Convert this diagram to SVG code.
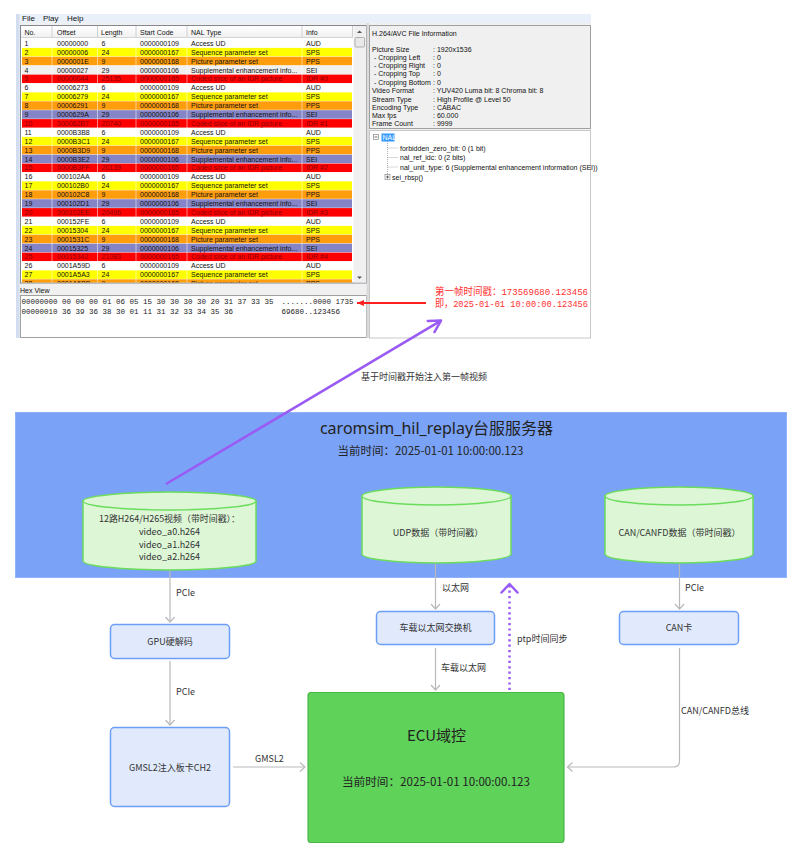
<svg xmlns="http://www.w3.org/2000/svg" width="800" height="858" viewBox="0 0 800 858">
<style>
.ui{font-family:"Liberation Sans",Arial,sans-serif;font-size:7px;fill:#111}
.menu{font-family:"Liberation Sans",Arial,sans-serif;font-size:8px;fill:#111}
.mono{font-family:"Liberation Mono","DejaVu Sans Mono",monospace;font-size:7.5px;fill:#222}
.cn{font-family:"Noto Sans CJK SC","Noto Sans",sans-serif;font-size:9px;fill:#333}
.yl{fill:#ffff00}.or{fill:#ff9d0d}.rd{fill:#ff0000}.pu{fill:#8484c6}.wh{fill:#ffffff}.gy{fill:#f0f0f0}
.rdt{fill:#8a0000}
.cyl{fill:#dcf6d6;stroke:#6cdc5c;stroke-width:1.5}
.box{fill:#e1eafd;stroke:#6d9ef6;stroke-width:1.5}
.conn{fill:none;stroke:#b9b9b9;stroke-width:1.2}
.red{font-family:"Liberation Mono","Noto Sans CJK SC",monospace;font-size:9.5px;fill:#ff3030}
.redcn{font-family:"Noto Sans CJK SC",sans-serif;font-size:10px}
</style>
<defs>
<linearGradient id="hdr" x1="0" y1="0" x2="0" y2="1"><stop offset="0" stop-color="#ffffff"/><stop offset="1" stop-color="#f0f0f0"/></linearGradient>
<marker id="ga" markerUnits="userSpaceOnUse" markerWidth="12" markerHeight="12" refX="5.5" refY="5" orient="auto" overflow="visible"><path d="M0.5,0.5 L5.5,5 L0.5,9.5" fill="none" stroke="#b9b9b9" stroke-width="1.2"/></marker>
<marker id="pa" markerUnits="userSpaceOnUse" markerWidth="16" markerHeight="16" refX="11.5" refY="6.5" orient="auto" overflow="visible"><path d="M0,0 L11.5,6.5 L0,13" fill="none" stroke="#9a5af4" stroke-width="2.5" stroke-linecap="round" stroke-linejoin="round"/></marker>
<marker id="pb" markerUnits="userSpaceOnUse" markerWidth="16" markerHeight="18" refX="8.5" refY="8" orient="auto" overflow="visible"><path d="M0,0 L8.5,8 L0,16" fill="none" stroke="#9a5af4" stroke-width="2.5" stroke-linecap="round" stroke-linejoin="round"/></marker>
<marker id="ra" markerUnits="userSpaceOnUse" markerWidth="10" markerHeight="10" refX="7" refY="3" orient="auto" overflow="visible"><path d="M0,0 L7,3 L0,6 Z" fill="#ff2020"/></marker>
<clipPath id="tbl"><rect x="21" y="38" width="332" height="244.5"/></clipPath>
</defs>

<g id="screenshot">
  <rect x="16" y="14" width="575" height="324" fill="#f0f0f0"/>
  <rect x="16" y="14" width="575" height="9" fill="#eaf0fa"/>
  <rect x="16" y="14" width="3.5" height="324" fill="#d2ddef"/>
  <text class="menu" x="22" y="21">File</text>
  <text class="menu" x="43" y="21">Play</text>
  <text class="menu" x="67" y="21">Help</text>

  <rect x="20.5" y="25.5" width="346" height="257.5" fill="#ffffff" stroke="#828790"/>
  <rect x="21" y="26" width="332" height="11.5" fill="url(#hdr)"/>
  <line x1="21" y1="37.5" x2="353" y2="37.5" stroke="#d5d5d5"/>
  <g stroke="#d0d0d0">
    <line x1="52" y1="26" x2="52" y2="37"/><line x1="97.5" y1="26" x2="97.5" y2="37"/>
    <line x1="136" y1="26" x2="136" y2="37"/><line x1="187" y1="26" x2="187" y2="37"/>
    <line x1="302" y1="26" x2="302" y2="37"/><line x1="352.5" y1="26" x2="352.5" y2="37"/>
  </g>
  <text class="ui" y="34.5"><tspan x="24.5">No.</tspan><tspan x="57">Offset</tspan><tspan x="101">Length</tspan><tspan x="140">Start Code</tspan><tspan x="191">NAL Type</tspan><tspan x="306">Info</tspan></text>

  <g clip-path="url(#tbl)" class="ui">
    <g transform="translate(0,39)"><rect class="wh" x="22" width="330" height="8.5"/><text y="6.9"><tspan x="24.5">1</tspan><tspan x="57">00000000</tspan><tspan x="101.5">6</tspan><tspan x="140">0000000109</tspan><tspan x="191">Access UD</tspan><tspan x="306">AUD</tspan></text></g>
    <g transform="translate(0,47.9)"><rect class="yl" x="22" width="330" height="8.5"/><text y="6.9"><tspan x="24.5">2</tspan><tspan x="57">00000006</tspan><tspan x="101.5">24</tspan><tspan x="140">0000000167</tspan><tspan x="191">Sequence parameter set</tspan><tspan x="306">SPS</tspan></text></g>
    <g transform="translate(0,56.8)"><rect class="or" x="22" width="330" height="8.5"/><text y="6.9"><tspan x="24.5">3</tspan><tspan x="57">0000001E</tspan><tspan x="101.5">9</tspan><tspan x="140">0000000168</tspan><tspan x="191">Picture parameter set</tspan><tspan x="306">PPS</tspan></text></g>
    <g transform="translate(0,65.7)"><rect class="gy" x="22" width="330" height="8.5"/><text y="6.9"><tspan x="24.5">4</tspan><tspan x="57">00000027</tspan><tspan x="101.5">29</tspan><tspan x="140">0000000106</tspan><tspan x="191">Supplemental enhancement info...</tspan><tspan x="306">SEI</tspan></text></g>
    <g transform="translate(0,74.6)"><rect class="rd" x="22" width="330" height="8.5"/><text class="rdt" y="6.9"><tspan x="24.5">5</tspan><tspan x="57">00000044</tspan><tspan x="101.5">25135</tspan><tspan x="140">0000000165</tspan><tspan x="191">Coded slice of an IDR picture</tspan><tspan x="306">IDR #0</tspan></text></g>
    <g transform="translate(0,83.5)"><rect class="wh" x="22" width="330" height="8.5"/><text y="6.9"><tspan x="24.5">6</tspan><tspan x="57">00006273</tspan><tspan x="101.5">6</tspan><tspan x="140">0000000109</tspan><tspan x="191">Access UD</tspan><tspan x="306">AUD</tspan></text></g>
    <g transform="translate(0,92.4)"><rect class="yl" x="22" width="330" height="8.5"/><text y="6.9"><tspan x="24.5">7</tspan><tspan x="57">00006279</tspan><tspan x="101.5">24</tspan><tspan x="140">0000000167</tspan><tspan x="191">Sequence parameter set</tspan><tspan x="306">SPS</tspan></text></g>
    <g transform="translate(0,101.3)"><rect class="or" x="22" width="330" height="8.5"/><text y="6.9"><tspan x="24.5">8</tspan><tspan x="57">00006291</tspan><tspan x="101.5">9</tspan><tspan x="140">0000000168</tspan><tspan x="191">Picture parameter set</tspan><tspan x="306">PPS</tspan></text></g>
    <g transform="translate(0,110.2)"><rect class="pu" x="22" width="330" height="8.5"/><text y="6.9"><tspan x="24.5">9</tspan><tspan x="57">0000629A</tspan><tspan x="101.5">29</tspan><tspan x="140">0000000106</tspan><tspan x="191">Supplemental enhancement info...</tspan><tspan x="306">SEI</tspan></text></g>
    <g transform="translate(0,119.1)"><rect class="rd" x="22" width="330" height="8.5"/><text class="rdt" y="6.9"><tspan x="24.5">10</tspan><tspan x="57">000062B7</tspan><tspan x="101.5">20740</tspan><tspan x="140">0000000165</tspan><tspan x="191">Coded slice of an IDR picture</tspan><tspan x="306">IDR #1</tspan></text></g>
    <g transform="translate(0,128)"><rect class="wh" x="22" width="330" height="8.5"/><text y="6.9"><tspan x="24.5">11</tspan><tspan x="57">0000B3B8</tspan><tspan x="101.5">6</tspan><tspan x="140">0000000109</tspan><tspan x="191">Access UD</tspan><tspan x="306">AUD</tspan></text></g>
    <g transform="translate(0,136.9)"><rect class="yl" x="22" width="330" height="8.5"/><text y="6.9"><tspan x="24.5">12</tspan><tspan x="57">0000B3C1</tspan><tspan x="101.5">24</tspan><tspan x="140">0000000167</tspan><tspan x="191">Sequence parameter set</tspan><tspan x="306">SPS</tspan></text></g>
    <g transform="translate(0,145.8)"><rect class="or" x="22" width="330" height="8.5"/><text y="6.9"><tspan x="24.5">13</tspan><tspan x="57">0000B3D9</tspan><tspan x="101.5">9</tspan><tspan x="140">0000000168</tspan><tspan x="191">Picture parameter set</tspan><tspan x="306">PPS</tspan></text></g>
    <g transform="translate(0,154.7)"><rect class="pu" x="22" width="330" height="8.5"/><text y="6.9"><tspan x="24.5">14</tspan><tspan x="57">0000B3E2</tspan><tspan x="101.5">29</tspan><tspan x="140">0000000106</tspan><tspan x="191">Supplemental enhancement info...</tspan><tspan x="306">SEI</tspan></text></g>
    <g transform="translate(0,163.6)"><rect class="rd" x="22" width="330" height="8.5"/><text class="rdt" y="6.9"><tspan x="24.5">15</tspan><tspan x="57">0000B3FF</tspan><tspan x="101.5">20139</tspan><tspan x="140">0000000165</tspan><tspan x="191">Coded slice of an IDR picture</tspan><tspan x="306">IDR #2</tspan></text></g>
    <g transform="translate(0,172.5)"><rect class="wh" x="22" width="330" height="8.5"/><text y="6.9"><tspan x="24.5">16</tspan><tspan x="57">000102AA</tspan><tspan x="101.5">6</tspan><tspan x="140">0000000109</tspan><tspan x="191">Access UD</tspan><tspan x="306">AUD</tspan></text></g>
    <g transform="translate(0,181.4)"><rect class="yl" x="22" width="330" height="8.5"/><text y="6.9"><tspan x="24.5">17</tspan><tspan x="57">000102B0</tspan><tspan x="101.5">24</tspan><tspan x="140">0000000167</tspan><tspan x="191">Sequence parameter set</tspan><tspan x="306">SPS</tspan></text></g>
    <g transform="translate(0,190.3)"><rect class="or" x="22" width="330" height="8.5"/><text y="6.9"><tspan x="24.5">18</tspan><tspan x="57">000102C8</tspan><tspan x="101.5">9</tspan><tspan x="140">0000000168</tspan><tspan x="191">Picture parameter set</tspan><tspan x="306">PPS</tspan></text></g>
    <g transform="translate(0,199.2)"><rect class="pu" x="22" width="330" height="8.5"/><text y="6.9"><tspan x="24.5">19</tspan><tspan x="57">000102D1</tspan><tspan x="101.5">29</tspan><tspan x="140">0000000106</tspan><tspan x="191">Supplemental enhancement info...</tspan><tspan x="306">SEI</tspan></text></g>
    <g transform="translate(0,208.1)"><rect class="rd" x="22" width="330" height="8.5"/><text class="rdt" y="6.9"><tspan x="24.5">20</tspan><tspan x="57">000102EE</tspan><tspan x="101.5">20496</tspan><tspan x="140">0000000165</tspan><tspan x="191">Coded slice of an IDR picture</tspan><tspan x="306">IDR #3</tspan></text></g>
    <g transform="translate(0,217)"><rect class="wh" x="22" width="330" height="8.5"/><text y="6.9"><tspan x="24.5">21</tspan><tspan x="57">000152FE</tspan><tspan x="101.5">6</tspan><tspan x="140">0000000109</tspan><tspan x="191">Access UD</tspan><tspan x="306">AUD</tspan></text></g>
    <g transform="translate(0,225.9)"><rect class="yl" x="22" width="330" height="8.5"/><text y="6.9"><tspan x="24.5">22</tspan><tspan x="57">00015304</tspan><tspan x="101.5">24</tspan><tspan x="140">0000000167</tspan><tspan x="191">Sequence parameter set</tspan><tspan x="306">SPS</tspan></text></g>
    <g transform="translate(0,234.8)"><rect class="or" x="22" width="330" height="8.5"/><text y="6.9"><tspan x="24.5">23</tspan><tspan x="57">0001531C</tspan><tspan x="101.5">9</tspan><tspan x="140">0000000168</tspan><tspan x="191">Picture parameter set</tspan><tspan x="306">PPS</tspan></text></g>
    <g transform="translate(0,243.7)"><rect class="pu" x="22" width="330" height="8.5"/><text y="6.9"><tspan x="24.5">24</tspan><tspan x="57">00015325</tspan><tspan x="101.5">29</tspan><tspan x="140">0000000106</tspan><tspan x="191">Supplemental enhancement info...</tspan><tspan x="306">SEI</tspan></text></g>
    <g transform="translate(0,252.6)"><rect class="rd" x="22" width="330" height="8.5"/><text class="rdt" y="6.9"><tspan x="24.5">25</tspan><tspan x="57">00015342</tspan><tspan x="101.5">21083</tspan><tspan x="140">0000000165</tspan><tspan x="191">Coded slice of an IDR picture</tspan><tspan x="306">IDR #4</tspan></text></g>
    <g transform="translate(0,261.5)"><rect class="wh" x="22" width="330" height="8.5"/><text y="6.9"><tspan x="24.5">26</tspan><tspan x="57">0001A59D</tspan><tspan x="101.5">6</tspan><tspan x="140">0000000109</tspan><tspan x="191">Access UD</tspan><tspan x="306">AUD</tspan></text></g>
    <g transform="translate(0,270.4)"><rect class="yl" x="22" width="330" height="8.5"/><text y="6.9"><tspan x="24.5">27</tspan><tspan x="57">0001A5A3</tspan><tspan x="101.5">24</tspan><tspan x="140">0000000167</tspan><tspan x="191">Sequence parameter set</tspan><tspan x="306">SPS</tspan></text></g>
    <g transform="translate(0,279.3)"><rect class="or" x="22" width="330" height="8.5"/><text y="6.9"><tspan x="24.5">28</tspan><tspan x="57">0001A5BB</tspan><tspan x="101.5">9</tspan><tspan x="140">0000000168</tspan><tspan x="191">Picture parameter set</tspan><tspan x="306">PPS</tspan></text></g>
    <g stroke="#ffffff" stroke-opacity="0.5">
      <line x1="52" y1="38" x2="52" y2="283"/><line x1="97.5" y1="38" x2="97.5" y2="283"/>
      <line x1="136" y1="38" x2="136" y2="283"/><line x1="187" y1="38" x2="187" y2="283"/>
      <line x1="302" y1="38" x2="302" y2="283"/>
    </g>
  </g>
  <rect x="353.5" y="26" width="12.5" height="256.5" fill="#f0f0f0"/>
  <path d="M357,33 L359.5,30.5 L362,33 Z" fill="#555"/>
  <rect x="355" y="37.5" width="9.5" height="9.5" rx="1" fill="#e9e9e9" stroke="#a0a0a0" stroke-width="0.8"/>
  <path d="M357,276.5 L359.5,279 L362,276.5 Z" fill="#555"/>

  <text class="ui" x="20" y="292.5">Hex View</text>
  <rect x="20.5" y="295.5" width="346" height="42" fill="#ffffff" stroke="#a0a0a0"/>
  <text class="mono" x="21.5" y="303.8">00000000 00 00 00 01 06 05 15 30 30 30 30 20 31 37 33 35</text>
  <text class="mono" x="281.5" y="303.8">.......0000 1735</text>
  <text class="mono" x="21.5" y="314.2">00000010 36 39 36 38 30 01 11 31 32 33 34 35 36</text>
  <text class="mono" x="281.5" y="314.2">69680..123456</text>
  <rect x="366.5" y="23" width="2.5" height="315" fill="#dadada"/>

  <rect x="369.5" y="25.5" width="221" height="103" fill="#f0f0f0" stroke="#a0a0a0"/>
  <g class="ui">
    <text x="372" y="35.5">H.264/AVC File Information</text>
    <text x="372" y="51.5">Picture Size</text><text x="433" y="51.5">: 1920x1536</text>
    <text x="374" y="59.8">- Cropping Left</text><text x="433" y="59.8">: 0</text>
    <text x="374" y="68.1">- Cropping Right</text><text x="433" y="68.1">: 0</text>
    <text x="374" y="76.4">- Cropping Top</text><text x="433" y="76.4">: 0</text>
    <text x="374" y="84.7">- Cropping Bottom</text><text x="433" y="84.7">: 0</text>
    <text x="372" y="93.2">Video Format</text><text x="433" y="93.2">: YUV420 Luma bit: 8 Chroma bit: 8</text>
    <text x="372" y="101.5">Stream Type</text><text x="433" y="101.5">: High Profile @ Level 50</text>
    <text x="372" y="109.8">Encoding Type</text><text x="433" y="109.8">: CABAC</text>
    <text x="372" y="118.1">Max fps</text><text x="433" y="118.1">: 60.000</text>
    <text x="372" y="126.4">Frame Count</text><text x="433" y="126.4">: 9999</text>
  </g>
  <rect x="369.5" y="130.5" width="221" height="207.5" fill="#ffffff" stroke="#c8c8c8"/>
  <g stroke="#a0a0a0" stroke-width="0.8" fill="none" stroke-dasharray="1 1">
    <line x1="387.5" y1="141" x2="387.5" y2="175"/>
    <line x1="387.5" y1="148" x2="398" y2="148"/>
    <line x1="387.5" y1="157.5" x2="398" y2="157.5"/>
    <line x1="387.5" y1="167" x2="398" y2="167"/>
  </g>
  <rect x="373.5" y="134.5" width="5" height="5" fill="#fff" stroke="#888" stroke-width="0.7"/>
  <line x1="374.5" y1="137" x2="377.5" y2="137" stroke="#333" stroke-width="0.7"/>
  <rect x="381.5" y="133.5" width="13" height="8" fill="#3399ff"/>
  <text class="ui" x="382.5" y="139.8" style="fill:#ffffff">NAL</text>
  <text class="ui" x="400" y="150.5">forbidden_zero_bit: 0 (1 bit)</text>
  <text class="ui" x="400" y="160">nal_ref_idc: 0 (2 bits)</text>
  <text class="ui" x="400" y="169.5">nal_unit_type: 6 (Supplemental enhancement information (SEI))</text>
  <rect x="385" y="174.5" width="5" height="5" fill="#fff" stroke="#888" stroke-width="0.7"/>
  <path d="M386,177 H389 M387.5,175.5 V178.5" stroke="#333" stroke-width="0.7"/>
  <text class="ui" x="392" y="179.5">sei_rbsp()</text>
</g>

<g id="annotation">
  <text class="red" x="435" y="295" textLength="153" lengthAdjust="spacingAndGlyphs"><tspan class="redcn">第一帧时间戳：</tspan>173569680.123456</text>
  <text class="red" x="435" y="306.5" textLength="153" lengthAdjust="spacingAndGlyphs"><tspan class="redcn">即，</tspan>2025-01-01 10:00:00.123456</text>
  <text class="cn" x="361" y="380">基于时间戳开始注入第一帧视频</text>
</g>

<g id="server">
  <rect x="15.5" y="412.5" width="771" height="165" fill="#7aa2f7" stroke="#8fb3fb"/>
  <text x="436.5" y="433.5" text-anchor="middle" style="font-family:'Noto Sans','Noto Sans CJK SC',sans-serif;font-size:16px;fill:#222">caromsim_hil_replay台服服务器</text>
  <text class="cn" x="430.5" y="455" text-anchor="middle" style="font-size:11.5px;fill:#222" textLength="186" lengthAdjust="spacingAndGlyphs">当前时间：2025-01-01 10:00:00.123</text>
</g>

<g id="video-store">
  <path class="cyl" d="M83,501 V561 A86.5,9 0 0 0 256,561 V501 Z"/>
  <ellipse class="cyl" cx="169.5" cy="501" rx="86.5" ry="9"/>
  <text class="cn" text-anchor="middle"><tspan x="169.5" y="522.2" textLength="141" lengthAdjust="spacingAndGlyphs">12路H264/H265视频（带时间戳）：</tspan><tspan x="169.5" y="535.2">video_a0.h264</tspan><tspan x="169.5" y="548.2">video_a1.h264</tspan><tspan x="169.5" y="560.2">video_a2.h264</tspan></text>
</g>
<g id="udp-store">
  <path class="cyl" d="M362,496 V554 A74.5,9 0 0 0 511,554 V496 Z"/>
  <ellipse class="cyl" cx="436.5" cy="496" rx="74.5" ry="9"/>
  <text class="cn" x="438" y="536.2" text-anchor="middle">UDP数据（带时间戳）</text>
</g>
<g id="can-store">
  <path class="cyl" d="M605,496 V554 A74,9 0 0 0 753,554 V496 Z"/>
  <ellipse class="cyl" cx="679" cy="496" rx="74" ry="9"/>
  <text class="cn" x="679.5" y="536.2" text-anchor="middle">CAN/CANFD数据（带时间戳）</text>
</g>

<g id="gpu">
  <rect class="box" x="110.5" y="624.5" width="119" height="34" rx="4"/>
  <text class="cn" x="170" y="644.5" text-anchor="middle">GPU硬解码</text>
</g>
<g id="gmsl2-card">
  <rect class="box" x="110.5" y="727.5" width="119" height="79" rx="4"/>
  <text class="cn" x="170" y="771.2" text-anchor="middle">GMSL2注入板卡CH2</text>
</g>
<g id="switch">
  <rect class="box" x="376.5" y="611.5" width="118" height="33" rx="4"/>
  <text class="cn" x="435.5" y="631.2" text-anchor="middle">车载以太网交换机</text>
</g>
<g id="can-card">
  <rect class="box" x="619.5" y="611.5" width="119" height="33" rx="4"/>
  <text class="cn" x="679" y="631.2" text-anchor="middle">CAN卡</text>
</g>
<g id="ecu">
  <rect x="308" y="692.5" width="256" height="150" rx="3" fill="#5fd25a" stroke="#4cb548" stroke-width="1.2"/>
  <text x="436.5" y="740.5" text-anchor="middle" style="font-family:'Noto Sans CJK SC','Noto Sans',sans-serif;font-size:15px;fill:#222">ECU域控</text>
  <text class="cn" x="436" y="785.5" text-anchor="middle" style="font-size:11.5px;fill:#222" textLength="188" lengthAdjust="spacingAndGlyphs">当前时间：2025-01-01 10:00:00.123</text>
</g>

<g id="connectors">
  <line x1="426" y1="303" x2="357" y2="303" stroke="#ff2020" stroke-width="2" marker-end="url(#ra)"/>
  <line x1="166" y1="484" x2="441" y2="320.6" stroke="#9a5af4" stroke-width="2.5" marker-end="url(#pa)"/>
  <line class="conn" x1="170" y1="571" x2="170" y2="622" marker-end="url(#ga)"/>
  <line class="conn" x1="170" y1="661" x2="170" y2="725" marker-end="url(#ga)"/>
  <line class="conn" x1="233" y1="767" x2="305" y2="767" marker-end="url(#ga)"/>
  <line class="conn" x1="435.5" y1="564" x2="435.5" y2="609" marker-end="url(#ga)"/>
  <line class="conn" x1="435.5" y1="648" x2="435.5" y2="690" marker-end="url(#ga)"/>
  <line class="conn" x1="679.5" y1="564" x2="679.5" y2="609" marker-end="url(#ga)"/>
  <path class="conn" d="M679.5,648 V761 Q679.5,767 673.5,767 H567.5" marker-end="url(#ga)"/>
  <line x1="509.5" y1="690" x2="509.5" y2="584" stroke="#9a5af4" stroke-width="2.5" stroke-dasharray="2.2 3.2" marker-end="url(#pb)"/>
  <text class="cn" x="176" y="596">PCIe</text>
  <text class="cn" x="176" y="694.5">PCIe</text>
  <text class="cn" x="269.5" y="762" text-anchor="middle">GMSL2</text>
  <text class="cn" x="442" y="591">以太网</text>
  <text class="cn" x="441" y="671">车载以太网</text>
  <text class="cn" x="517" y="642">ptp时间同步</text>
  <text class="cn" x="685" y="591">PCIe</text>
  <text class="cn" x="681" y="714">CAN/CANFD总线</text>
</g>
</svg>
